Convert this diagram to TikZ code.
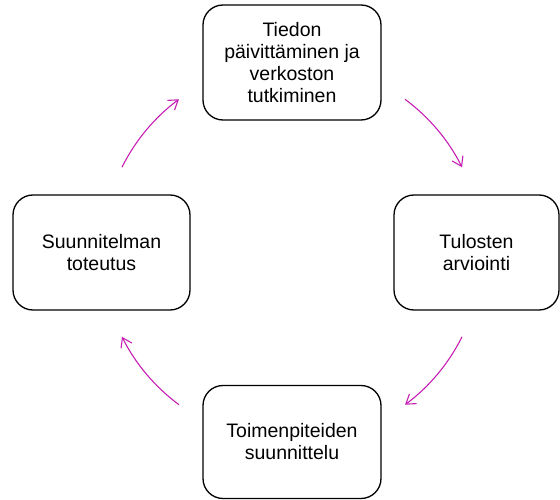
\documentclass[tikz,border=0pt]{standalone}
\usepackage{fontspec}
\setmainfont{Liberation Sans}
\usepackage{tikz}
\usetikzlibrary{arrows.meta}
\definecolor{cyclepink}{RGB}{196,32,180}

\begin{document}
\begin{tikzpicture}[x=1pt,y=1pt,>={Straight Barb[length=9pt,width=12pt]},
		phase/.style={draw,rounded corners=20pt,line width=1.3pt,align=center,
			inner sep=0pt,font=\fontsize{19.5}{22}\selectfont},
		turn/.style={->,draw=cyclepink,line width=1.1pt}]
			\useasboundingbox (0,0) rectangle (560,499);
			\coordinate (c) at (292,247);
			\node[phase, minimum width=178pt, minimum height=115pt] (info)  at (292,436.5) {Tiedon\\päivittäminen ja\\verkoston\\tutkiminen};
			\node[phase, minimum width=165pt, minimum height=115pt] (eval)  at (476.5,246.5) {Tulosten\\arviointi};
			\node[phase, minimum width=178pt, minimum height=113pt] (plan)  at (292,57) {Toimenpiteiden\\suunnittelu};
			\node[phase, minimum width=177pt, minimum height=115pt] (exec)  at (101.5,246.5) {Suunnitelman\\toteutus};
			\draw[turn] (c) ++(53.5:190)  arc (53.5:26.5:190);
			\draw[turn] (c) ++(-26.5:190) arc (-26.5:-53.5:190);
			\draw[turn] (c) ++(-126.5:190) arc (-126.5:-153.5:190);
			\draw[turn] (c) ++(153.5:190) arc (153.5:126.5:190);
		\end{tikzpicture}
\end{document}
